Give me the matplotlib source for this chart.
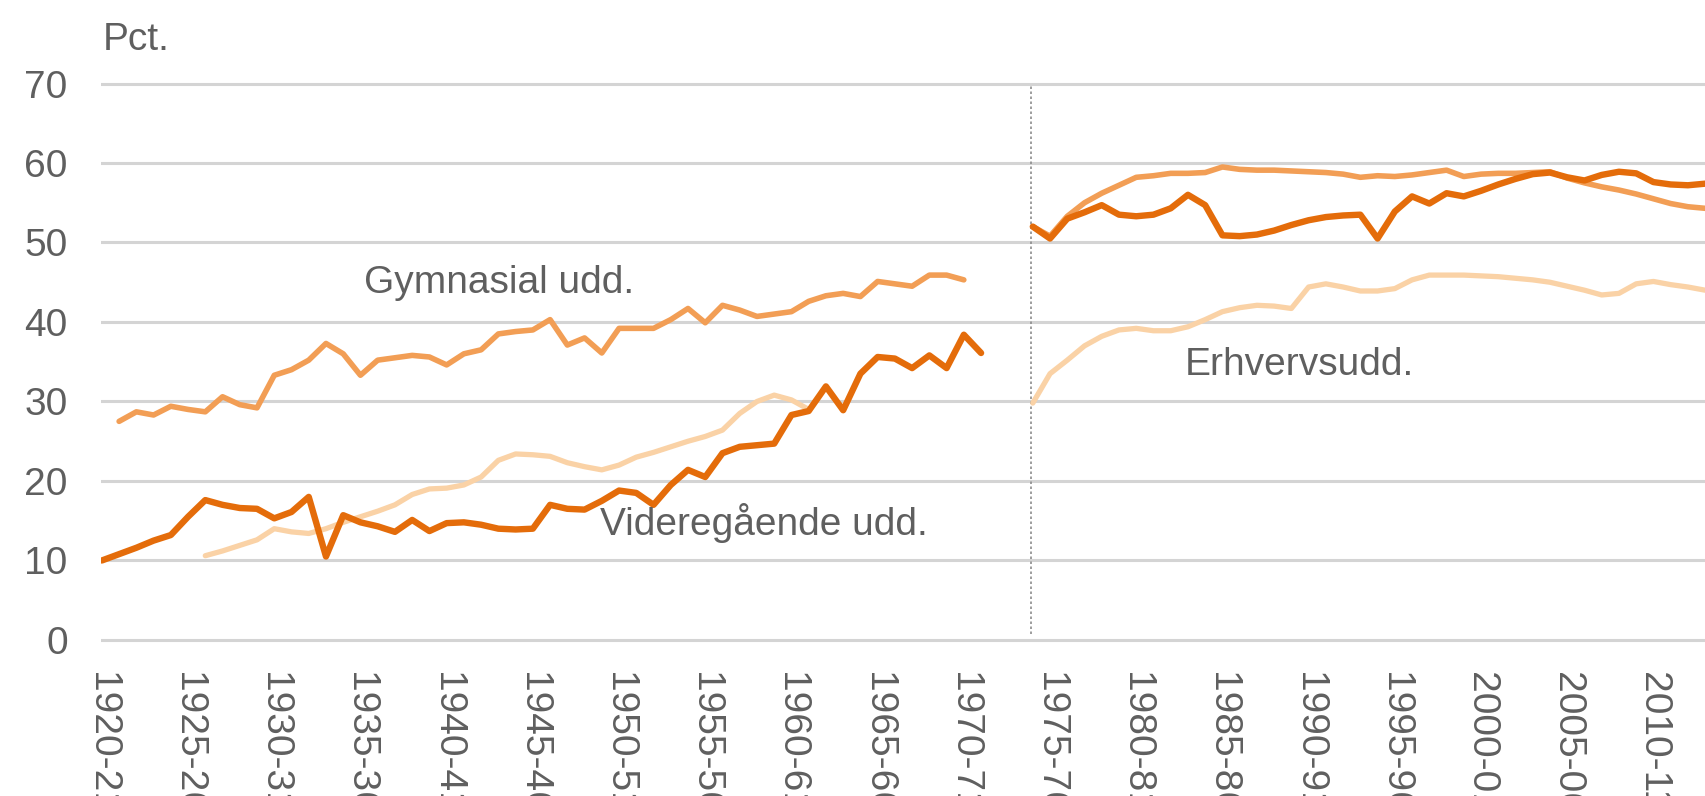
import matplotlib
matplotlib.use("Agg")
import matplotlib.pyplot as plt

# --- data (pct.) ---
# first period: 1920-21 .. 1971-72
years_vid_a = list(range(1920, 1972))
vid_a = [10.0, 10.8, 11.6, 12.5, 13.2, 15.5, 17.6, 17.0, 16.6, 16.5,
         15.3, 16.1, 18.0, 10.5, 15.7, 14.8, 14.3, 13.6, 15.1, 13.7,
         14.7, 14.8, 14.5, 14.0, 13.9, 14.0, 17.0, 16.5, 16.4, 17.5,
         18.8, 18.5, 17.0, 19.5, 21.4, 20.5, 23.5, 24.3, 24.5, 24.7,
         28.3, 28.8, 31.9, 28.9, 33.5, 35.6, 35.4, 34.2, 35.8, 34.2,
         38.4, 36.1]

years_gym_a = list(range(1921, 1971))
gym_a = [27.5, 28.7, 28.3, 29.4, 29.0, 28.7, 30.6, 29.6, 29.2, 33.3,
         34.0, 35.2, 37.3, 36.0, 33.3, 35.2, 35.5, 35.8, 35.6, 34.6,
         36.0, 36.5, 38.5, 38.8, 39.0, 40.3, 37.1, 38.0, 36.1, 39.2,
         39.2, 39.2, 40.3, 41.7, 39.9, 42.1, 41.5, 40.7, 41.0, 41.3,
         42.6, 43.3, 43.6, 43.2, 45.1, 44.8, 44.5, 45.9, 45.9, 45.3]

years_erh_a = list(range(1926, 1962))
erh_a = [10.6, 11.2, 11.9, 12.6, 14.0, 13.6, 13.4, 14.0, 14.8, 15.5,
         16.2, 17.0, 18.3, 19.0, 19.1, 19.5, 20.5, 22.6, 23.4, 23.3,
         23.1, 22.3, 21.8, 21.4, 22.0, 23.0, 23.6, 24.3, 25.0, 25.6,
         26.4, 28.5, 30.0, 30.8, 30.2, 29.0]

# second period: 1974-75 .. 2013-14
years_b = list(range(1974, 2014))
vid_b = [52.0, 50.5, 53.0, 53.8, 54.7, 53.5, 53.3, 53.5, 54.3, 56.0,
         54.7, 50.9, 50.8, 51.0, 51.5, 52.2, 52.8, 53.2, 53.4, 53.5,
         50.5, 53.9, 55.8, 54.9, 56.2, 55.8, 56.5, 57.3, 58.0, 58.6,
         58.8, 58.2, 57.8, 58.5, 58.9, 58.7, 57.6, 57.3, 57.2, 57.4]
gym_b = [52.0, 50.8, 53.3, 55.0, 56.2, 57.2, 58.2, 58.4, 58.7, 58.7,
         58.8, 59.5, 59.2, 59.1, 59.1, 59.0, 58.9, 58.8, 58.6, 58.2,
         58.4, 58.3, 58.5, 58.8, 59.1, 58.3, 58.6, 58.7, 58.7, 58.8,
         58.9, 58.1, 57.5, 57.0, 56.6, 56.1, 55.5, 54.9, 54.5, 54.3]
erh_b = [29.8, 33.5, 35.2, 37.0, 38.2, 39.0, 39.2, 38.9, 38.9, 39.4,
         40.3, 41.3, 41.8, 42.1, 42.0, 41.7, 44.4, 44.8, 44.4, 43.9,
         43.9, 44.2, 45.3, 45.9, 45.9, 45.9, 45.8, 45.7, 45.5, 45.3,
         45.0, 44.5, 44.0, 43.4, 43.6, 44.8, 45.1, 44.7, 44.4, 44.0]

xtick_labels = ["1920-21", "1925-26", "1930-31", "1935-36", "1940-41",
                "1945-46", "1950-51", "1955-56", "1960-61", "1965-66",
                "1970-71", "1975-76", "1980-81", "1985-86", "1990-91",
                "1995-96", "2000-01", "2005-06", "2010-11"]
yticks = [0, 10, 20, 30, 40, 50, 60, 70]

c_dark = "#E46C0A"
c_mid = "#F29E55"
c_light = "#FAD2A6"
c_text = "#5F5F5F"

plt.rcParams['font.family'] = ['Liberation Sans', 'DejaVu Sans']

W, H = 1706, 796
fig = plt.figure(figsize=(W / 100, H / 100), dpi=100)
ax = fig.add_axes([101 / W, 146 / H, 1 - 101 / W, 575 / H])

# light first, dark on top
ax.plot(years_erh_a, erh_a, color=c_light, lw=3.8, solid_capstyle='round', solid_joinstyle='round', zorder=3)
ax.plot(years_b, erh_b, color=c_light, lw=3.8, solid_capstyle='round', solid_joinstyle='round', zorder=3)
ax.plot(years_gym_a, gym_a, color=c_mid, lw=4.0, solid_capstyle='round', solid_joinstyle='round', zorder=4)
ax.plot(years_b, gym_b, color=c_mid, lw=4.0, solid_capstyle='round', solid_joinstyle='round', zorder=4)
ax.plot(years_vid_a, vid_a, color=c_dark, lw=4.6, solid_capstyle='round', solid_joinstyle='round', zorder=5)
ax.plot(years_b, vid_b, color=c_dark, lw=4.6, solid_capstyle='round', solid_joinstyle='round', zorder=5)

# period break
ax.plot([1973.9, 1973.9], [0.8, 70], color="#8C8C8C", lw=1.2, ls=(0, (1.5, 1.5)), zorder=2)

ax.set_xlim(1919.95, 2013.05)
ax.set_ylim(-1.26, 71.07)
ax.set_yticks(yticks)
ax.set_xticks([int(s[:4]) for s in xtick_labels])
ax.set_xticklabels(xtick_labels, rotation=-90, ha='center', va='top')
ax.grid(axis='y', color="#D4D4D4", lw=2.2, zorder=1)
ax.set_axisbelow(True)
for s in ax.spines.values():
    s.set_visible(False)
ax.tick_params(axis='both', length=0, labelsize=28, colors=c_text)
ax.tick_params(axis='y', pad=24)
ax.tick_params(axis='x', pad=16)

ax.text(1935.2, 43.6, "Gymnasial udd.", fontsize=28, color=c_text, va='baseline', ha='left')
ax.text(1948.9, 13.2, "Videregående udd.", fontsize=28, color=c_text, va='baseline', ha='left', zorder=6)
ax.text(1982.8, 33.3, "Erhvervsudd.", fontsize=28, color=c_text, va='baseline', ha='left')

fig.text(103 / W, 1 - 40 / H, "Pct.", fontsize=28, color=c_text, va='center', ha='left')

fig.savefig("out.png", dpi=100)
